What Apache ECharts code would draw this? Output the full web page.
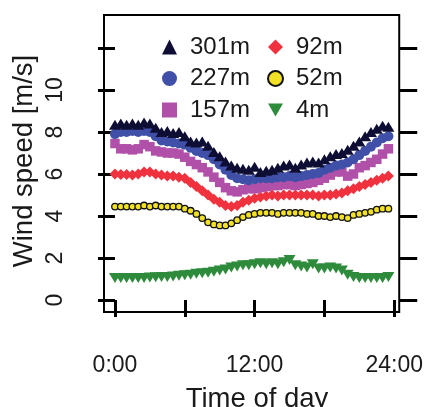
<!DOCTYPE html>
<html>
<head>
<meta charset="utf-8">
<script src="https://cdn.jsdelivr.net/npm/echarts@6/dist/echarts.min.js"></script>
<style>
html,body{margin:0;padding:0;background:#fff;}
#c{width:426px;height:407px;}
</style>
</head>
<body>
<div id="c"></div>
<script>
// Hours of day (x positions, 30-min steps)
const hours = [0,0.5,1,1.5,2,2.5,3,3.5,4,4.5,5,5.5,6,6.5,7,7.5,8,8.5,9,9.5,10,10.5,11,11.5,
  12,12.5,13,13.5,14,14.5,15,15.5,16,16.5,17,17.5,18,18.5,19,19.5,20,20.5,21,21.5,22,22.5,23,23.5];

const s301 = [8.35,8.4,8.35,8.4,8.35,8.45,8.4,8.2,8.0,8.05,7.95,8.0,7.8,7.55,7.5,7.55,7.35,7.05,6.85,6.6,6.4,6.3,6.25,6.2,
  6.35,6.1,6.15,6.2,6.3,6.4,6.45,6.3,6.45,6.55,6.6,6.55,6.7,6.85,6.95,7.0,7.15,7.35,7.55,7.8,8.0,8.15,8.3,8.25];
const s227 = [7.9,8.0,8.0,8.05,8.0,8.05,8.0,7.8,7.6,7.55,7.5,7.45,7.4,7.25,7.1,7.0,6.9,6.7,6.45,6.2,5.95,5.8,5.75,5.7,
  5.75,5.8,5.8,5.8,5.85,5.85,5.9,5.85,5.9,5.95,6.0,6.05,6.2,6.3,6.4,6.45,6.55,6.7,6.9,7.1,7.3,7.5,7.7,7.8];
const s157 = [7.45,7.2,7.2,7.15,7.2,7.4,7.3,7.1,7.05,7.0,7.0,6.95,6.8,6.6,6.45,6.3,6.1,5.85,5.6,5.35,5.2,5.15,5.25,5.3,
  5.3,5.35,5.4,5.45,5.45,5.5,5.5,5.45,5.5,5.55,5.6,5.7,5.8,5.95,6.1,6.1,5.9,6.0,6.3,6.4,6.55,6.7,6.95,7.2];
const s92 = [6.0,5.98,5.98,5.95,6.0,6.1,6.1,6.0,5.95,5.9,5.9,5.85,5.8,5.6,5.4,5.2,5.0,4.8,4.65,4.5,4.45,4.5,4.65,4.75,
  4.85,4.9,4.95,5.0,4.95,5.0,5.0,5.0,5.0,5.0,5.0,4.95,5.0,5.0,5.05,5.1,5.2,5.3,5.4,5.5,5.6,5.7,5.8,5.9];
const s52 = [4.45,4.45,4.45,4.45,4.45,4.5,4.45,4.5,4.45,4.45,4.45,4.45,4.35,4.25,4.1,3.9,3.7,3.6,3.55,3.55,3.65,3.8,3.95,4.05,
  4.1,4.15,4.15,4.15,4.1,4.15,4.15,4.15,4.15,4.1,4.1,4.0,4.0,3.95,4.0,3.95,3.9,4.05,4.1,4.15,4.2,4.3,4.35,4.35];
const s4 = [1.05,1.05,1.05,1.05,1.05,1.05,1.07,1.08,1.1,1.1,1.12,1.15,1.18,1.2,1.25,1.28,1.3,1.35,1.4,1.45,1.55,1.6,1.65,1.65,
  1.7,1.75,1.7,1.75,1.7,1.8,1.9,1.65,1.6,1.55,1.7,1.5,1.5,1.55,1.5,1.4,1.2,1.1,1.05,1.05,1.05,1.05,1.05,1.1];

const yTicks = [0,2,4,6,8,10,12];
const yLabels = [0,2,4,6,8,10];
const xTicks = [0,6,12,18,24];
const xLabels = [0,12,24];

const pair = arr => arr.map((v,i)=>[hours[i], v]);
const downTri = 'path://M0,0L10,0L5,8.66Z';

const chart = echarts.init(document.getElementById('c'), null, {renderer:'canvas'});
const FONT = 'Liberation Sans, Arial, sans-serif';
const TXT = '#1a1a1a';

const series = [
  {name:'4m', type:'scatter', data:pair(s4), symbol:downTri, symbolSize:[12,10],
   itemStyle:{color:'#2e8b3c', opacity:1}},
  {name:'52m', type:'scatter', data:pair(s52), symbol:'circle', symbolSize:6.5,
   itemStyle:{color:'#f2e124', borderColor:'#111', borderWidth:1.3, opacity:1}},
  {name:'92m', type:'scatter', data:pair(s92), symbol:'diamond', symbolSize:11,
   itemStyle:{color:'#f0323e', opacity:1}},
  {name:'157m', type:'scatter', data:pair(s157), symbol:'rect', symbolSize:9.5,
   itemStyle:{color:'#b050a8', opacity:1}},
  {name:'227m', type:'scatter', data:pair(s227), symbol:'circle', symbolSize:10,
   itemStyle:{color:'#4050a8', opacity:1}},
  {name:'301m', type:'scatter', data:pair(s301), symbol:'triangle', symbolSize:[12,10],
   itemStyle:{color:'#0e0e35', opacity:1}}
];

const legendCommon = {
  orient:'vertical', itemWidth:15, itemHeight:15, itemGap:7.5,
  textStyle:{fontSize:24, color:TXT, fontFamily:FONT, padding:[0,0,0,8]}
};

chart.setOption({
  animation:false,
  backgroundColor:'#fff',
  grid:{left:104, top:15, width:296, height:297, show:true, borderColor:'#000', borderWidth:2, containLabel:false},
  xAxis:{
    type:'value', min:-0.943, max:24.43,
    axisLine:{show:false}, splitLine:{show:false},
    axisTick:{show:true, customValues:xTicks, length:17, lineStyle:{color:'#000', width:3}},
    axisLabel:{customValues:xLabels, formatter:v=>v+':00', margin:42, fontSize:23, color:TXT, fontFamily:FONT}
  },
  yAxis:[{
    type:'value', min:-0.571, max:13.571, position:'left',
    axisLine:{show:false}, splitLine:{show:false},
    axisTick:{show:true, customValues:yTicks, length:17, lineStyle:{color:'#000', width:3}},
    axisLabel:{customValues:yLabels, rotate:90, margin:37, fontSize:23, color:TXT, fontFamily:FONT}
  },{
    type:'value', min:-0.571, max:13.571, position:'right',
    axisLine:{show:false}, splitLine:{show:false},
    axisTick:{show:true, customValues:yTicks, length:18, lineStyle:{color:'#000', width:3}},
    axisLabel:{show:false}
  }],
  legend:[
    Object.assign({left:157, top:30, data:[
      {name:'301m', icon:'triangle'},
      {name:'227m', icon:'circle'},
      {name:'157m', icon:'rect'}
    ]}, legendCommon),
    Object.assign({left:262, top:30, data:[
      {name:'92m', icon:'diamond'},
      {name:'52m', icon:'circle'},
      {name:'4m', icon:downTri}
    ]}, legendCommon)
  ],
  graphic:[
    {type:'text', x:24, y:161, rotation:Math.PI/2,
     style:{text:'Wind speed [m/s]', fontSize:27.5, fill:TXT, fontFamily:FONT, align:'center', verticalAlign:'middle'}},
    {type:'text', x:257, y:385,
     style:{text:'Time of day', fontSize:27.5, fill:TXT, fontFamily:FONT, align:'center', verticalAlign:'top'}}
  ],
  series: series
});
</script>
</body>
</html>
